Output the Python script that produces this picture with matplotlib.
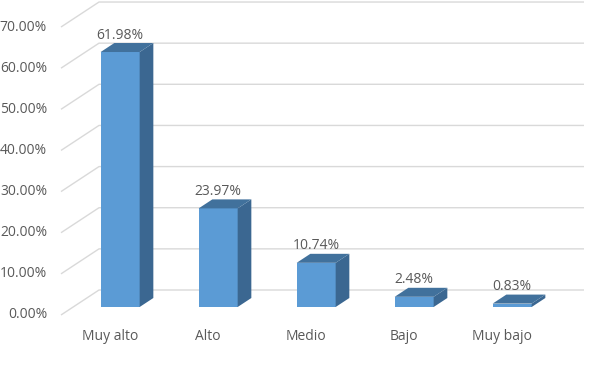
import matplotlib
matplotlib.use("Agg")
import matplotlib.pyplot as plt
from matplotlib.patches import Polygon

categories = ["Muy alto", "Alto", "Medio", "Bajo", "Muy bajo"]
values = [61.98, 23.97, 10.74, 2.48, 0.83]
value_labels = ["61.98%", "23.97%", "10.74%", "2.48%", "0.83%"]
yticks = [0, 10, 20, 30, 40, 50, 60, 70]
ytick_labels = ["0.00%", "10.00%", "20.00%", "30.00%", "40.00%", "50.00%", "60.00%", "70.00%"]

W, H = 589, 366
fig = plt.figure(figsize=(W / 100, H / 100), dpi=100)
ax = fig.add_axes([0, 0, 1, 1])
ax.set_axis_off()

# pixel mapping: x pixel = 110 + 98*k ; y pixel (from bottom) = 51 + 4.114*v
px_per_cat = 98.0
px_per_pct = 4.114
x0_px, y0_px = 110.0, 51.0
ax.set_xlim(-x0_px / px_per_cat, (W - x0_px) / px_per_cat)
ax.set_ylim(-y0_px / px_per_pct, (H - y0_px) / px_per_pct)

DX = 38 / px_per_cat      # depth offset in category units
DY = 25 / px_per_pct      # depth offset in percent units
grid_col = "#d9d9d9"
text_col = "#595959"
font = "Open Sans"
fs = 10

left = -0.5
right = (584 - x0_px) / px_per_cat
for v, lab in zip(yticks, ytick_labels):
    ax.plot([left, left + DX, right], [v, v + DY, v + DY], color=grid_col, lw=1.0,
            solid_capstyle="butt", zorder=1)
    ax.text(left - 14 / px_per_cat, v, lab, ha="right", va="center",
            fontsize=fs, color=text_col, family=font)

bw = 39 / px_per_cat
d_front, d_back = 0.32, 0.68
front_col = "#5b9bd5"
side_col = "#3b6791"
top_col = "#41719c"
for k, (cat, val, vl) in enumerate(zip(categories, values, value_labels)):
    fx = k + d_front * DX - bw / 2 - 2 / px_per_cat
    fy = d_front * DY
    ox, oy = (d_back - d_front) * DX, (d_back - d_front) * DY
    # front face
    ax.add_patch(Polygon([(fx, fy), (fx + bw, fy), (fx + bw, fy + val), (fx, fy + val)],
                         closed=True, facecolor=front_col, edgecolor="none", zorder=3))
    # side face
    ax.add_patch(Polygon([(fx + bw, fy), (fx + bw + ox, fy + oy), (fx + bw + ox, fy + oy + val),
                          (fx + bw, fy + val)], closed=True, facecolor=side_col,
                         edgecolor="none", zorder=3))
    # top face
    ax.add_patch(Polygon([(fx, fy + val), (fx + bw, fy + val), (fx + bw + ox, fy + oy + val),
                          (fx + ox, fy + oy + val)], closed=True, facecolor=top_col,
                         edgecolor="none", zorder=3))
    ax.text(fx + bw / 2, fy + oy + val + 0.1, vl, ha="center", va="bottom",
            fontsize=fs, color=text_col, family=font, zorder=4)
    ax.text(k, -(336 - 315) / px_per_pct, cat, ha="center", va="center",
            fontsize=fs, color=text_col, family=font)

fig.savefig("out.png", dpi=100)
